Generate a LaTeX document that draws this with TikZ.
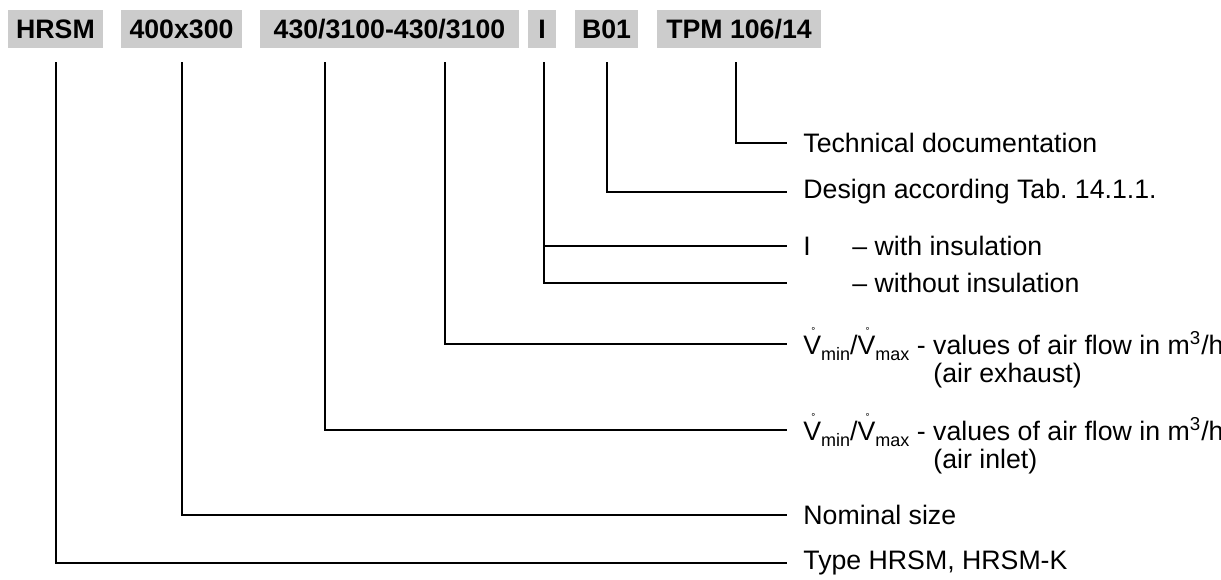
\documentclass[tikz,border=0pt]{standalone}
\usepackage{fontspec}
\setmainfont{Liberation Sans}
\usepackage{tikz}
\usetikzlibrary{calc}
\frenchspacing
\definecolor{boxgray}{RGB}{204,204,204}
\newcommand{\vflow}{\leavevmode\rlap{\hspace{0.3em}\raisebox{0.78em}{\fontsize{5}{5}\selectfont\textdegree}}V}
\newcommand{\lowtxt}[1]{\raisebox{-0.22em}{\fontsize{9}{9}\selectfont #1}}
\newcommand{\vrange}{\vflow\lowtxt{min}/\vflow\lowtxt{max}}

\begin{document}
\begin{tikzpicture}[x=0.5pt, y=-0.5pt, font=\fontsize{13.35}{16}\selectfont,
  code/.style={fill=boxgray, font=\fontsize{13.35}{16}\selectfont\bfseries, minimum height=19pt,
               inner xsep=1pt, inner ysep=0pt},
  lbl/.style={anchor=west, inner xsep=8pt, inner ysep=0pt},
  sub/.style={anchor=west, inner sep=0pt},
  lead/.style={line width=1pt, shorten <=7pt}]
\useasboundingbox (0,0) rectangle (1221,579);
% type code
\node[code, minimum width=47.5pt] (hrsm) at (55.5,29) {HRSM};
\node[code, minimum width=60.5pt] (size) at (181.5,29) {400x300};
\node[code, minimum width=129.5pt] (flow) at (389.5,29) {430/3100-430/3100};
\node[code, minimum width=14pt] (iso) at (542,29) {I};
\node[code, minimum width=31.5pt] (des) at (606.5,29) {B01};
\node[code, minimum width=82pt] (tpm) at (739,29) {TPM 106/14};
% explanations
\node[lbl] (doc) at (787,143) {Technical documentation};
\node[lbl] (tab) at (787,192) {Design according Tab. 14.1.1.};
\node[lbl] (ins) at (787,246) {I};
\node[sub] at (852,246) {-- with insulation};
\coordinate (nins) at (787,283);
\node[sub] at (852,283) {-- without insulation};
\node[lbl] (vex) at (787,344) {\vrange\ - values of air flow in m\textsuperscript{3}/h};
\node[sub] at (933,376) {(air exhaust)};
\node[lbl] (vin) at (787,430) {\vrange\ - values of air flow in m\textsuperscript{3}/h};
\node[sub] at (933,462) {(air inlet)};
\node[lbl] (nom) at (787,515) {Nominal size};
\node[lbl] (typ) at (787,563) {Type HRSM, HRSM-K};
\coordinate (fin) at ($(flow.south)+(-64.5,0)$);
\coordinate (fex) at ($(flow.south)+(55.5,0)$);
% leaders
\draw[lead] ([xshift=-1.5]tpm.south) |- (doc.west);
\draw[lead] (des.south) |- (tab.west);
\draw[lead] ([xshift=1]iso.south) |- (nins);
\draw[line width=1pt] ([xshift=1]iso.south |- ins.west) -- (ins.west);
\draw[lead] (fex) |- (vex.west);
\draw[lead] (fin) |- (vin.west);
\draw[lead] (size.south) |- (nom.west);
\draw[lead] (hrsm.south) |- (typ.west);
\end{tikzpicture}
\end{document}
